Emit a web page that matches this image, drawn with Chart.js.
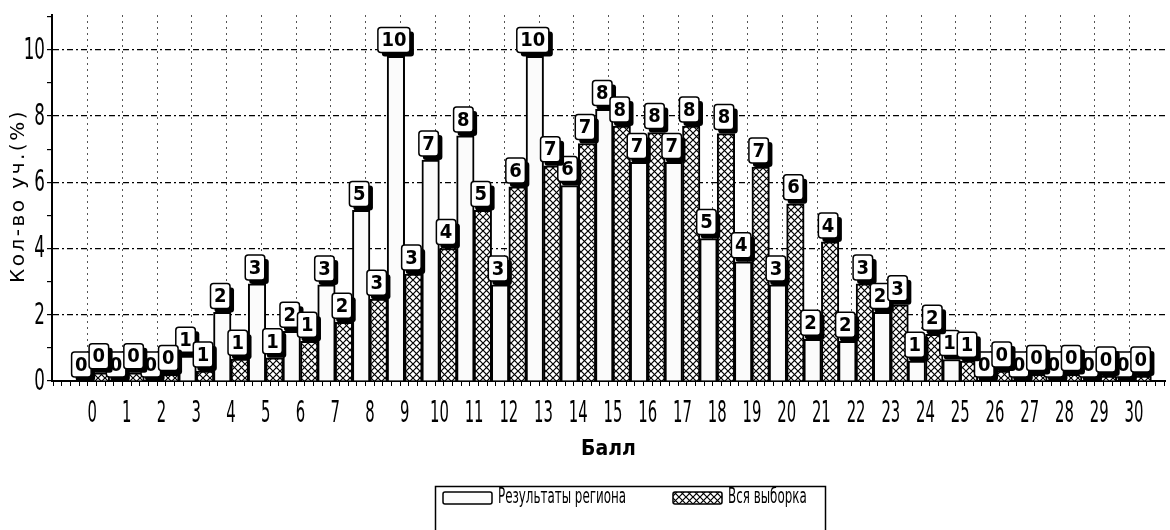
<!DOCTYPE html>
<html>
<head>
<meta charset="utf-8">
<script src="https://cdn.jsdelivr.net/npm/chart.js@4.4.1/dist/chart.umd.min.js"></script>
<style>
    body { margin: 0; background: #fff; }
    canvas { display: block; }
</style>
</head>
<body>
<canvas id="scoreChart" width="1170" height="530"></canvas>
<script>
// Scores on the x axis
const scores = [0, 1, 2, 3, 4, 5, 6, 7, 8, 9, 10, 11, 12, 13, 14, 15, 16, 17, 18, 19, 20, 21, 22, 23, 24, 25, 26, 27, 28, 29, 30];

// Bar heights, % of participants
const regionValues = [0, 0, 0, 0.75, 2.07, 2.93, 1.5, 2.9, 5.15, 9.8, 6.67, 7.4, 2.9, 9.8, 5.9, 8.2, 6.6, 6.6, 4.3, 3.6, 2.9, 1.26, 1.2, 2.07, 0.6, 0.65, 0, 0, 0, 0, 0];
const sampleValues = [0.25, 0.25, 0.2, 0.3, 0.66, 0.7, 1.2, 1.77, 2.47, 3.23, 4.0, 5.15, 5.86, 6.5, 7.17, 7.7, 7.5, 7.7, 7.47, 6.46, 5.35, 4.2, 2.93, 2.3, 1.41, 0.6, 0.3, 0.2, 0.2, 0.15, 0.15];

// Numbers printed in the boxes above the bars
const regionLabels = [0, 0, 0, 1, 2, 3, 2, 3, 5, 10, 7, 8, 3, 10, 6, 8, 7, 7, 5, 4, 3, 2, 2, 2, 1, 1, 0, 0, 0, 0, 0];
const sampleLabels = [0, 0, 0, 1, 1, 1, 1, 2, 3, 3, 4, 5, 6, 7, 7, 8, 8, 8, 8, 7, 6, 4, 3, 3, 2, 1, 0, 0, 0, 0, 0];

const yTickValues = [0, 2, 4, 6, 8, 10];
const seriesNames = ['Результаты региона', 'Вся выборка'];

const NARROW = "'Liberation Sans Narrow', 'DejaVu Sans Condensed', sans-serif";

function makeHatch() {
    const c = document.createElement('canvas');
    c.width = 7;
    c.height = 7;
    const g = c.getContext('2d');
    g.fillStyle = '#fff';
    g.fillRect(0, 0, 7, 7);
    g.strokeStyle = '#000';
    g.lineWidth = 1.2;
    g.beginPath();
    g.moveTo(0, 0); g.lineTo(7, 7);
    g.moveTo(7, 0); g.lineTo(0, 7);
    g.stroke();
    return g.createPattern(c, 'repeat');
}
const hatch = makeHatch();

// Boxes with the rounded values, region first then the whole sample on top
const valueBoxes = {
    id: 'valueBoxes',
    afterDatasetsDraw(chart) {
        const ctx = chart.ctx;
        ctx.save();
        ctx.font = 'bold 20px ' + NARROW;
        ctx.textAlign = 'center';
        ctx.textBaseline = 'middle';
        [regionLabels, sampleLabels].forEach((labels, d) => {
            chart.getDatasetMeta(d).data.forEach((bar, i) => {
                const text = String(labels[i]);
                const w = Math.max(18, ctx.measureText(text).width + 7);
                const h = 25;
                const cx = bar.x - 2;
                const top = bar.y - 4 - h;
                const left = cx - w / 2;
                ctx.fillStyle = '#000';
                ctx.beginPath();
                ctx.roundRect(left + 4, top + 4, w, h, 3);
                ctx.fill();
                ctx.fillStyle = '#fff';
                ctx.strokeStyle = '#000';
                ctx.lineWidth = 1.5;
                ctx.beginPath();
                ctx.roundRect(left, top, w, h, 3);
                ctx.fill();
                ctx.stroke();
                ctx.fillStyle = '#000';
                ctx.fillText(text, cx, top + h / 2 + 1);
            });
        });
        ctx.restore();
    }
};

// Squeezed tick labels, y title and the framed legend
const axisText = {
    id: 'axisText',
    afterDraw(chart) {
        const { ctx, scales: { x, y } } = chart;
        ctx.save();
        ctx.fillStyle = '#000';
        ctx.font = '30px ' + NARROW;
        ctx.textBaseline = 'middle';

        ctx.textAlign = 'right';
        yTickValues.forEach(v => {
            ctx.save();
            ctx.translate(45, y.getPixelForValue(v) + 1);
            ctx.scale(0.62, 1);
            ctx.fillText(String(v), 0, 0);
            ctx.restore();
        });

        ctx.textAlign = 'center';
        scores.forEach(s => {
            ctx.save();
            ctx.translate(x.getPixelForValue(s), 414);
            ctx.scale(0.55, 1);
            ctx.fillText(String(s), 0, 0);
            ctx.restore();
        });

        ctx.save();
        ctx.translate(19, 196);
        ctx.rotate(-Math.PI / 2);
        ctx.font = '20px "DejaVu Sans", sans-serif';
        ctx.letterSpacing = '2.5px';
        ctx.fillText('Кол-во уч.(%)', 0, 0);
        ctx.restore();

        // legend
        ctx.strokeStyle = '#000';
        ctx.lineWidth = 1.5;
        ctx.strokeRect(435.5, 486.5, 390, 60);
        ctx.font = '21px ' + NARROW;
        ctx.textAlign = 'left';
        const swatchX = [443, 673];
        chart.data.datasets.forEach((ds, i) => {
            ctx.fillStyle = ds.backgroundColor;
            ctx.beginPath();
            ctx.roundRect(swatchX[i], 492, 49, 12, 2);
            ctx.fill();
            ctx.stroke();
            ctx.fillStyle = '#000';
            ctx.save();
            ctx.translate(swatchX[i] + 55, 498);
            ctx.scale(0.63, 1);
            ctx.fillText(ds.label, 0, 0);
            ctx.restore();
        });
        ctx.restore();
    }
};

const ctx = document.getElementById('scoreChart').getContext('2d');
new Chart(ctx, {
    type: 'bar',
    data: {
        datasets: [{
            label: seriesNames[0],
            data: scores.map((s, i) => ({ x: s, y: regionValues[i] })),
            backgroundColor: '#fbfbfb',
            borderColor: '#000',
            borderWidth: 2
        }, {
            label: seriesNames[1],
            data: scores.map((s, i) => ({ x: s, y: sampleValues[i] })),
            backgroundColor: hatch,
            borderColor: '#000',
            borderWidth: 2
        }]
    },
    options: {
        responsive: false,
        animation: false,
        barThickness: 17.5,
        layout: { padding: { left: 0, top: 15, right: 5, bottom: 68 } },
        plugins: {
            legend: { display: false },
            tooltip: { enabled: false }
        },
        scales: {
            x: {
                type: 'linear',
                min: -1.03,
                max: 30.77,
                afterFit(scale) { scale.height = 81; },
                afterBuildTicks(scale) {
                    const ticks = [];
                    for (let i = -4; i <= 123; i++) ticks.push({ value: i / 4 });
                    scale.ticks = ticks;
                },
                ticks: { display: false },
                grid: {
                    color: c => (c.tick && Number.isInteger(c.tick.value) && c.tick.value >= 0) ? '#555' : 'rgba(0,0,0,0)',
                    tickColor: '#000',
                    tickLength: 5
                },
                border: { color: '#000', width: 2, dash: [2, 4] },
                title: {
                    display: true,
                    text: 'Балл',
                    color: '#000',
                    padding: 0,
                    font: { family: NARROW, size: 21, weight: 'bold' }
                }
            },
            y: {
                min: 0,
                max: 11.05,
                afterFit(scale) { scale.width = 52; },
                afterBuildTicks(scale) {
                    const ticks = [];
                    for (let v = 0; v <= 11; v++) ticks.push({ value: v });
                    scale.ticks = ticks;
                },
                ticks: { display: false },
                grid: {
                    color: c => (c.tick && c.tick.value > 0 && c.tick.value % 2 === 0) ? '#000' : 'rgba(0,0,0,0)',
                    tickColor: '#000',
                    tickLength: 5,
                    lineWidth: 1.2
                },
                border: { color: '#000', width: 2, dash: [6, 3, 2, 3] }
            }
        }
    },
    plugins: [valueBoxes, axisText]
});
</script>
</body>
</html>
